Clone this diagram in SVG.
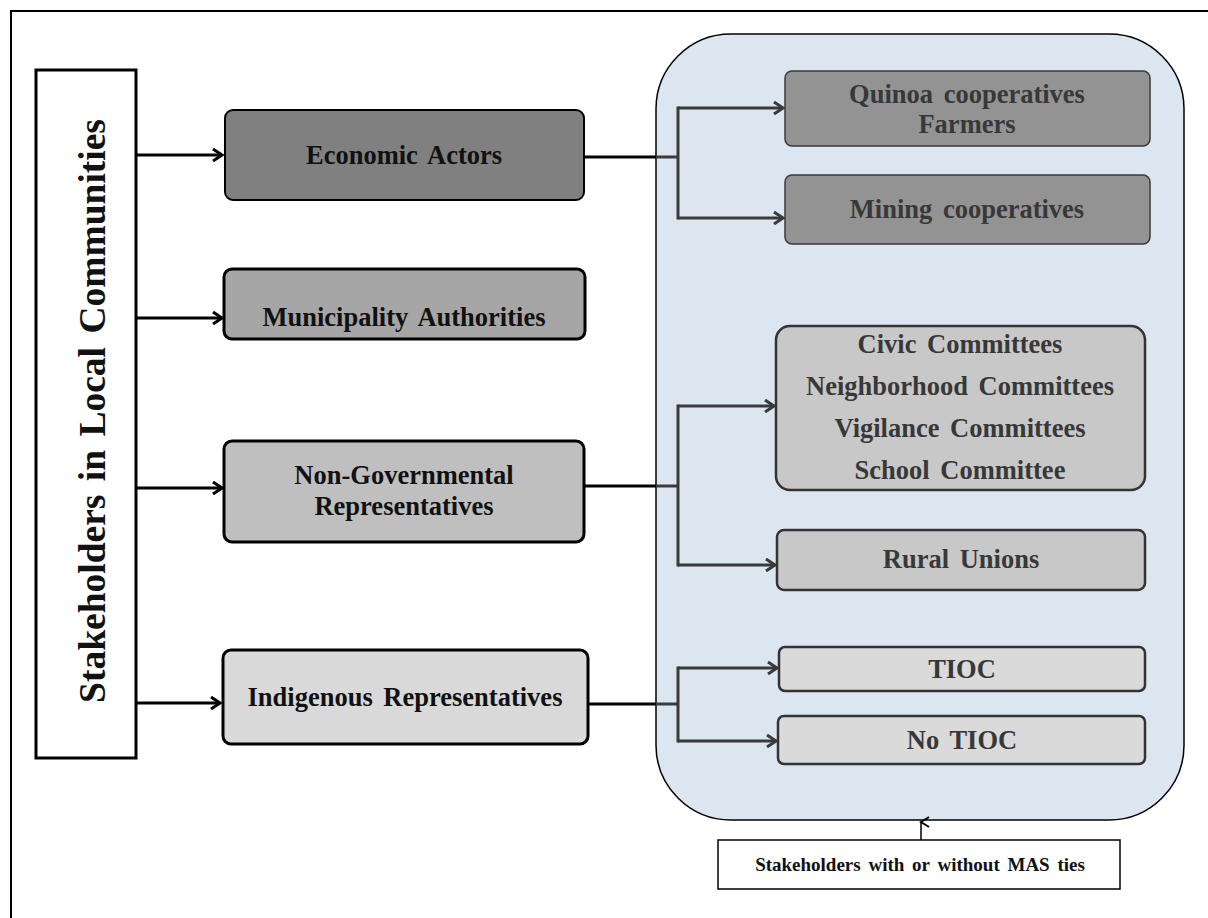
<svg xmlns="http://www.w3.org/2000/svg" width="1208" height="918" viewBox="0 0 1208 918">
  <defs>
    <style>
      .lbl { font-family: "Liberation Serif", "DejaVu Serif", serif; font-weight: bold; font-size: 26.5px; text-anchor: middle; fill: #111; word-spacing: 4px; }
      .sub { fill: #383838; }
      .sub-box { stroke: #333; stroke-width: 2.5; }
      .link { fill: none; stroke: #000; stroke-width: 3; }
      .link-in { fill: none; stroke: #3a3a3a; stroke-width: 3; }
    </style>
    <marker id="arrow" viewBox="0 0 12 14" refX="10" refY="7" markerWidth="12" markerHeight="14" markerUnits="userSpaceOnUse" orient="auto">
      <path d="M1,1 L10,7 L1,13" fill="none" stroke="#000" stroke-width="3"/>
    </marker>
    <marker id="arrow-in" viewBox="0 0 12 14" refX="10" refY="7" markerWidth="12" markerHeight="14" markerUnits="userSpaceOnUse" orient="auto">
      <path d="M1,1 L10,7 L1,13" fill="none" stroke="#3a3a3a" stroke-width="3"/>
    </marker>
    <marker id="arrow-thin" viewBox="0 0 12 14" refX="6" refY="2" markerWidth="12" markerHeight="14" markerUnits="userSpaceOnUse" orient="auto-start-reverse">
      <path d="M1,10 L6,2 L11,10" fill="none" stroke="#000" stroke-width="2"/>
    </marker>
  </defs>

  <rect width="1208" height="918" fill="#fff"/>
  <!-- page frame (right and bottom edges run off the sheet) -->
  <rect x="11" y="11" width="1300" height="1000" fill="none" stroke="#000" stroke-width="2"/>

  <!-- light blue container holding the sub-groups -->
  <g id="container">
    <rect x="656" y="34" width="528" height="786" rx="75" ry="75" fill="#dce6f1" stroke="#000" stroke-width="1.5"/>
  </g>

  <g id="connectors">
    <!-- root to first-level actors -->
    <line class="link" x1="136" y1="155" x2="222" y2="155" marker-end="url(#arrow)"/>
    <line class="link" x1="136" y1="318" x2="222" y2="318" marker-end="url(#arrow)"/>
    <line class="link" x1="136" y1="488" x2="222" y2="488" marker-end="url(#arrow)"/>
    <line class="link" x1="136" y1="703" x2="220" y2="703" marker-end="url(#arrow)"/>

    <!-- Economic Actors branches -->
    <line class="link" x1="584" y1="157" x2="656" y2="157"/>
    <path class="link-in" d="M656,157 H678"/>
    <path class="link-in" d="M678,108 H783" marker-end="url(#arrow-in)"/>
    <path class="link-in" d="M678,218 H783" marker-end="url(#arrow-in)"/>
    <line class="link-in" x1="678" y1="106.5" x2="678" y2="219.5"/>

    <!-- Non-Governmental branches -->
    <line class="link" x1="585" y1="486" x2="656" y2="486"/>
    <path class="link-in" d="M656,486 H678"/>
    <path class="link-in" d="M678,406 H774" marker-end="url(#arrow-in)"/>
    <path class="link-in" d="M678,565 H775" marker-end="url(#arrow-in)"/>
    <line class="link-in" x1="678" y1="404.5" x2="678" y2="566.5"/>

    <!-- Indigenous branches -->
    <line class="link" x1="588" y1="704" x2="656" y2="704"/>
    <path class="link-in" d="M656,704 H678"/>
    <path class="link-in" d="M678,668 H777" marker-end="url(#arrow-in)"/>
    <path class="link-in" d="M678,741 H776" marker-end="url(#arrow-in)"/>
    <line class="link-in" x1="678" y1="666.5" x2="678" y2="742.5"/>

    <!-- MAS ties note pointing at the container -->
    <line x1="921" y1="840" x2="921" y2="822" stroke="#000" stroke-width="1.5" marker-end="url(#arrow-thin)"/>
  </g>

  <g id="root">
    <rect x="36" y="70" width="100" height="688" fill="#fff" stroke="#000" stroke-width="3"/>
    <text class="lbl" transform="translate(105,411) rotate(-90)" style="font-size:37.5px;word-spacing:4px">Stakeholders in Local Communities</text>
  </g>

  <g id="economic-actors">
    <rect x="225" y="110" width="359" height="90" rx="8" fill="#808080" stroke="#000" stroke-width="2"/>
    <text class="lbl" x="404" y="164">Economic Actors</text>
  </g>

  <g id="municipality-authorities">
    <rect x="224" y="269" width="361" height="70" rx="8" fill="#a6a6a6" stroke="#000" stroke-width="3"/>
    <text class="lbl" x="404" y="326">Municipality Authorities</text>
  </g>

  <g id="non-governmental">
    <rect x="224" y="441" width="360" height="101" rx="8" fill="#bfbfbf" stroke="#000" stroke-width="3"/>
    <text class="lbl" x="404" y="484">Non-Governmental</text>
    <text class="lbl" x="404" y="515">Representatives</text>
  </g>

  <g id="indigenous">
    <rect x="223" y="650" width="365" height="94" rx="8" fill="#d9d9d9" stroke="#000" stroke-width="3"/>
    <text class="lbl" x="405" y="706">Indigenous Representatives</text>
  </g>

  <g id="quinoa">
    <rect x="785" y="71" width="365" height="75" rx="7" fill="#939393" stroke="#3a3a3a" stroke-width="1.5"/>
    <text class="lbl sub" x="967" y="103">Quinoa cooperatives</text>
    <text class="lbl sub" x="967" y="133">Farmers</text>
  </g>

  <g id="mining">
    <rect x="785" y="175" width="365" height="69" rx="7" fill="#939393" stroke="#3a3a3a" stroke-width="1.5"/>
    <text class="lbl sub" x="967" y="218">Mining cooperatives</text>
  </g>

  <g id="committees">
    <rect class="sub-box" x="776" y="326" width="369" height="164" rx="14" fill="#c8c8c8"/>
    <text class="lbl sub" x="960" y="353">Civic Committees</text>
    <text class="lbl sub" x="960" y="395">Neighborhood Committees</text>
    <text class="lbl sub" x="960" y="437">Vigilance Committees</text>
    <text class="lbl sub" x="960" y="479">School Committee</text>
  </g>

  <g id="rural-unions">
    <rect class="sub-box" x="777" y="530" width="368" height="60" rx="7" fill="#c8c8c8"/>
    <text class="lbl sub" x="961" y="568">Rural Unions</text>
  </g>

  <g id="tioc">
    <rect class="sub-box" x="779" y="647" width="366" height="44" rx="6" fill="#dadada"/>
    <text class="lbl sub" x="962" y="678">TIOC</text>
  </g>

  <g id="no-tioc">
    <rect class="sub-box" x="778" y="716" width="367" height="48" rx="6" fill="#dadada"/>
    <text class="lbl sub" x="962" y="749">No TIOC</text>
  </g>

  <g id="mas-ties-note">
    <rect x="718" y="840" width="402" height="49" fill="#fff" stroke="#000" stroke-width="1.5"/>
    <text class="lbl" x="920" y="871" style="font-size:19px;word-spacing:3px">Stakeholders with or without MAS ties</text>
  </g>
</svg>
